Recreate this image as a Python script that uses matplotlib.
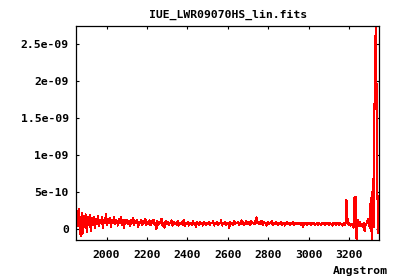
import matplotlib
matplotlib.use("Agg")
import matplotlib.pyplot as plt
import numpy as np
from matplotlib.ticker import FuncFormatter, MultipleLocator

# wavelength grid of the spectrum (Angstrom, 5 A sampling)
wave = np.arange(1852, 3350, 5)

# flux, in units of 1e-10
flux_e10 = [
    1.9, 0.4, 2.8, 0.9, -0.9, 2.2, -0.6, 1.8, 0.3, 2.0,
    -0.4, 1.6, 0.5, 1.9, -0.2, 1.5, 0.6, 1.7, 0.2, 1.4,
    0.7, 1.8, 0.4, 1.3, 0.9, 1.6, 0.1, 1.2, 0.8, 2.0,
    0.6, 1.4, 0.9, 1.5, 0.3, 1.3, 0.8, 1.6, 0.7, 1.2,
    1.0, 0.5, 1.4, 0.9, 1.7, 0.6, 1.2, 0.2, 1.3, 0.8,
    1.3, 0.7, 1.1, 0.4, 1.2, 0.9, 1.5, 0.6, 1.1, 0.8,
    1.2, 0.3, 1.0, 0.8, 1.3, 0.5, 1.1, 0.9, 1.4, 0.6,
    1.0, 0.7, 1.2, 0.5, 1.1, 0.8, 1.3, 0.6, 0.9, 0.0,
    1.1, 0.6, 1.0, 0.8, 1.4, 0.5, 0.9, 0.2, 1.1, 0.7,
    1.0, 0.6, 0.9, 0.8, 1.2, 0.5, 1.0, 0.7, 0.9, 0.6,
    1.1, 0.5, 0.9, 0.7, 1.0, 0.6, 1.3, 0.4, 0.9, 0.7,
    1.0, 0.5, 0.8, 0.9, 0.6, 1.1, 0.7, 0.9, 0.3, 1.0,
    0.8, 0.6, 1.0, 0.7, 0.9, 0.5, 1.0, 0.8, 0.6, 0.9,
    0.7, 1.0, 0.6, 0.9, 0.8, 1.1, 0.5, 0.9, 0.7, 1.0,
    0.6, 0.9, 0.8, 1.2, 0.5, 0.9, 0.7, 1.0, 0.6, 0.9,
    0.8, 0.2, 1.0, 0.7, 0.9, 0.6, 1.1, 0.7, 0.9, 0.8,
    1.0, 0.6, 0.9, 1.2, 0.7, 1.0, 0.6, 0.9, 1.1, 0.7,
    0.9, 1.0, 0.6, 1.1, 0.8, 0.9, 0.7, 1.2, 1.6, 0.8,
    1.0, 0.7, 0.9, 1.1, 0.6, 1.0, 0.8, 0.9, 0.5, 1.0,
    0.7, 0.9, 0.8, 1.1, 0.6, 0.9, 0.7, 1.0, 0.8, 0.6,
    0.9, 0.7, 1.0, 0.6, 0.8, 0.9, 0.5, 0.8, 1.0, 0.7,
    0.9, 0.6, 0.8, 0.7, 1.0, 0.6, 0.8, 0.9, 0.7, 0.8,
    0.7, 0.9, 0.6, 0.8, 0.3, 0.8, 0.7, 0.9, 0.6, 0.8,
    0.7, 0.8, 0.6, 0.9, 0.7, 0.8, 0.6, 0.7, 0.8, 0.6,
    0.8, 0.7, 0.6, 0.9, 0.7, 0.8, 0.6, 0.8, 0.7, 0.9,
    0.6, 0.8, 0.7, 0.5, 0.8, 0.7, 0.9, 0.6, 0.7, 0.8,
    0.6, 0.8, 0.7, 0.5, 0.8, 0.6, 0.7, 4.0, 1.5, 0.6,
    0.8, 0.5, 0.7, 0.6, 0.2, 4.4, 4.4, -1.45, 1.3, 0.4,
    1.0, 0.5, 0.7, 0.3, 0.9, -0.3, 0.6, 0.8, 1.3, 1.4,
    0.2, 4.2, -1.45, 6.8, 0.3, 22.0, 27.45, 16.6, -0.5, 2.9,
]
flux = np.array(flux_e10) * 1e-10

font = dict(family="DejaVu Sans Mono", weight="bold", size=8.2)

fig = plt.figure(figsize=[4.0, 2.8], dpi=100)
ax = fig.add_axes([0.191, 0.143, 0.757, 0.764])

ax.plot(wave, flux, color="#ff0000", linewidth=0.75, antialiased=False)

ax.set_xlim(1851, 3349)
ax.set_ylim(flux.min(), flux.max())

ax.xaxis.set_major_locator(MultipleLocator(200))
ax.yaxis.set_major_locator(MultipleLocator(5e-10))
ax.yaxis.set_major_formatter(FuncFormatter(lambda v, p: "%g" % v))
ax.tick_params(direction="in", length=2.3, width=0.8, top=True, right=True,
               color="black")
ax.tick_params(axis="x", pad=7)
ax.tick_params(axis="y", pad=5.5)
for lab in ax.get_xticklabels() + ax.get_yticklabels():
    lab.set_fontproperties(matplotlib.font_manager.FontProperties(**font))
for sp in ax.spines.values():
    sp.set_linewidth(0.9)

fig.text(228 / 400, 1 - 14.5 / 280, "IUE_LWR09070HS_lin.fits",
         ha="center", va="center", **font)
fig.text(388 / 400, 1 - 270.5 / 280, "Angstrom",
         ha="right", va="center", **font)

fig.savefig("out.png", dpi=100)
